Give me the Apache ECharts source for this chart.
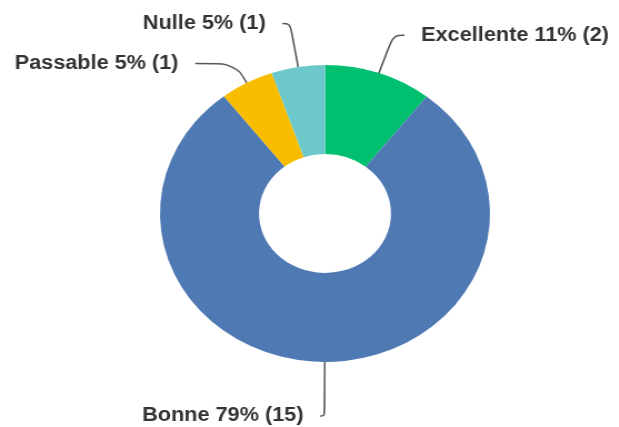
<!DOCTYPE html>
<html>
<head>
<meta charset="utf-8">
<script src="https://cdn.jsdelivr.net/npm/echarts@6/dist/echarts.min.js"></script>
<style>
  html, body { margin: 0; padding: 0; background: #fff; overflow: hidden; }
  /* the reference donut is a bit wider than tall, so stretch the chart sideways */
  #main { width: 557px; height: 427px; transform: scaleX(1.1111); transform-origin: 0 0; }
</style>
</head>
<body>
<div id="main"></div>
<script>
var categories = ['Excellente', 'Bonne', 'Passable', 'Nulle'];
var counts = [2, 15, 1, 1];
var colors = ['#00bf6f', '#4e79b3', '#f9bd00', '#6dc8cc'];
// leader line lengths per slice [length, length2]
var lineLengths = [[40, 10], [54, 4], [22, 36], [44, 7]];

var myChart = echarts.init(document.getElementById('main'));

var pieData = categories.map(function (name, i) {
    return {
        name: name,
        value: counts[i],
        itemStyle: { color: colors[i] },
        labelLine: { length: lineLengths[i][0], length2: lineLengths[i][1] }
    };
});

var option = {
    animation: false,
    series: [{
        type: 'pie',
        center: [292.5, 213.5],
        radius: [59.4, 148.5],
        // a hair under 90 so the "Bonne" label falls on the left like the original
        startAngle: 89.9,
        percentPrecision: 0,
        avoidLabelOverlap: false,
        data: pieData,
        label: {
            show: true,
            formatter: '{b} {d}% ({c})',
            color: '#333',
            fontFamily: 'Liberation Sans',
            fontWeight: 'bold',
            fontSize: 19.5,
            distanceToLabelLine: 15
        },
        labelLine: {
            show: true,
            smooth: 0.4,
            lineStyle: { color: '#555', width: 1.5 }
        }
    }]
};
myChart.setOption(option);
</script>
</body>
</html>
